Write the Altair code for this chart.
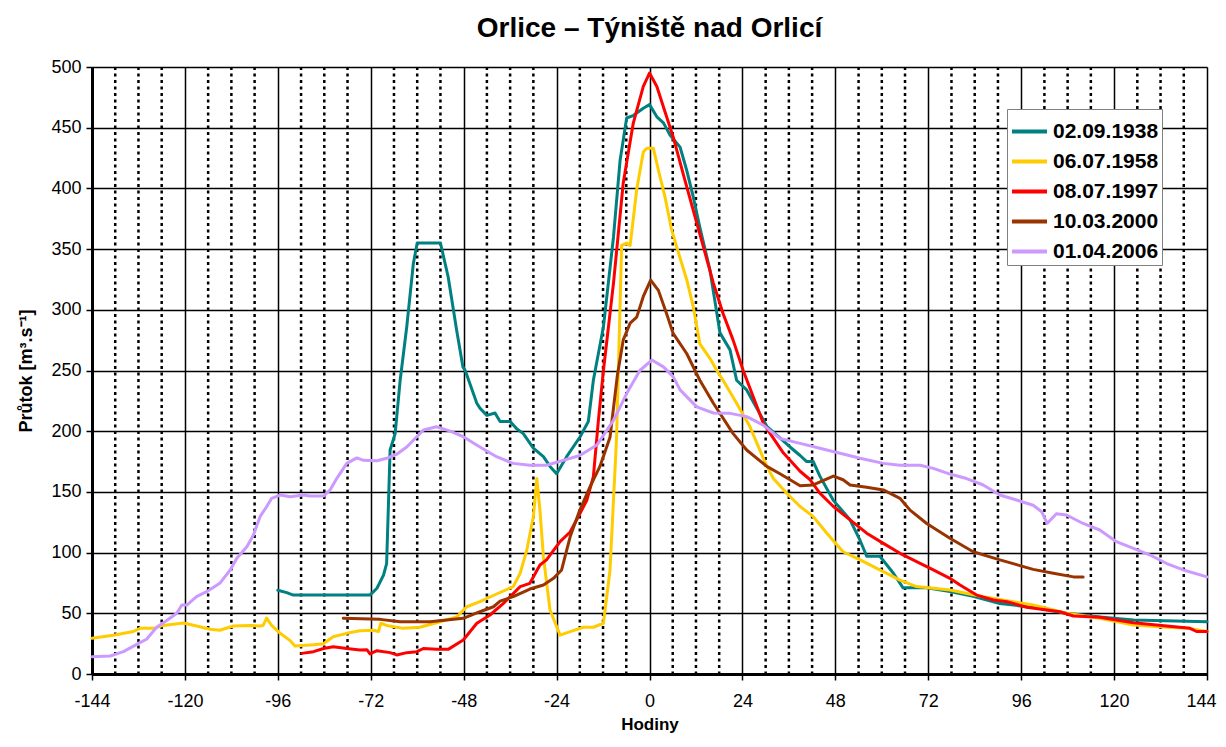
import altair as alt
import pandas as pd

# ---------------- data ----------------
series_names = ["02.09.1938", "06.07.1958", "08.07.1997", "10.03.2000", "01.04.2006"]
series_colors = ["#008080", "#FFCC00", "#FF0000", "#993300", "#CC99FF"]

hours_1938 = [
    -96, -93.7, -92, -80, -72.2, -70.4, -68.7, -67.9, -67, -65.7,
    -64.4, -62.7, -61, -60, -54, -52, -49.8, -48.2, -47.6, -44.6,
    -43.8, -42, -39.9, -38.6, -36, -34.3, -32.6, -30, -27.4, -25.7,
    -24, -21.4, -18, -15.8, -14.5, -11.9, -9.3, -7.6, -5.9, -4.2,
    -1.6, 0, 1.9, 3.6, 5.3, 7.9, 9.6, 11.3, 13, 15.6,
    18.2, 20.8, 22.5, 25.1, 30.3, 36.3, 38.9, 40.6, 42.3, 44,
    47.5, 51.8, 54.4, 56.1, 59.5, 63, 65.5, 71.6, 77.6, 83.6,
    90.5, 99, 107.7, 116.3, 125, 144,
]
flow_1938 = [
    69, 67, 65, 65, 65, 70.6, 81.5, 91, 184.5, 198,
    242, 286, 338, 355, 355, 327, 283, 253, 250, 223,
    219, 213, 215, 208, 208, 202, 198, 186, 179, 171,
    165, 179, 195, 208, 242, 286, 360, 423, 458, 460,
    466, 469, 459, 454, 444, 434, 415, 393, 368, 333,
    281, 267, 242, 234, 204, 187, 180, 175, 175, 163,
    143, 127, 110, 97, 97, 83, 71, 71, 68, 64,
    58, 55, 50, 47, 44.5, 43,
]

hours_1958 = [
    -144, -138.5, -133.3, -131.6, -128, -125.6, -120.4, -117, -113.5, -111,
    -107.5, -103, -100.6, -99.8, -98.9, -97.6, -95.4, -92.8, -91.6, -86.8,
    -84.2, -81.7, -78.2, -74.8, -71.3, -70, -69.4, -67.9, -63.6, -59.3,
    -54.1, -49.8, -47.2, -43.8, -39.5, -35.2, -33.4, -31.7, -30, -29.1,
    -28.3, -27.4, -25.7, -23.1, -19.7, -17.1, -14.5, -11.9, -10.2, -8.5,
    -7.2, -5.9, -5, -3.3, -1.6, -0.7, 1, 2.3, 4, 5.7,
    7, 9.6, 11.3, 13, 15.6, 17.4, 19, 21.6, 25.9, 30.3,
    32, 35.4, 38.9, 42.3, 45.8, 50, 54.4, 59.5, 64.7, 69,
    77.6, 86.2, 99.1, 107.7, 116.3, 125, 133.6, 139.6, 144,
]
flow_1958 = [
    29.4, 32, 35, 37.6, 37.6, 40, 42, 39.5, 36.8, 36,
    39.5, 40, 39.5, 40, 46, 40, 33.5, 27.5, 23, 24,
    25, 30.7, 33.5, 35.7, 36, 35, 41.8, 40, 37.6, 38.5,
    43, 47, 55.4, 59.6, 65.9, 72, 83, 102, 129.6, 161,
    135, 96.6, 52.7, 32, 35.7, 38.5, 38.5, 41.8, 85.7, 195,
    353, 355, 353, 399, 430, 433, 433, 415, 393, 366,
    352, 325, 302.6, 272, 260, 250, 242, 228, 204, 171,
    161, 149, 138, 129.6, 116, 100.7, 94, 85.7, 77.4, 72,
    69.2, 63.7, 56.8, 50, 45.9, 40.4, 38.5, 37.6, 35,
]

hours_1997 = [
    -89.8, -86.8, -84.2, -81.7, -78.2, -74.8, -73, -72.2, -70.4, -67,
    -65.3, -62.7, -60.1, -58.4, -55, -52, -48.1, -44.6, -41.2, -37.8,
    -33.4, -30.9, -28.3, -26.6, -23.1, -20.5, -18, -16.2, -14.5, -13.2,
    -11.9, -9.3, -6.8, -4.2, -1.6, 0, 1.9, 3.6, 6.1, 8.7,
    11.3, 13.9, 16.5, 19, 21.6, 24.2, 29.4, 34.6, 38.9, 41.5,
    44, 47.5, 51.8, 56.1, 60.4, 64.7, 69, 73.3, 77.6, 80.2,
    84.5, 88.8, 92.3, 97.4, 106, 109.5, 116.3, 125, 133.6, 139.6,
    141.3, 144,
]
flow_1997 = [
    17, 18.4, 21, 22.5, 21, 19.8, 20, 16.5, 19.2, 17.6,
    15.7, 17.6, 18.4, 21, 20.3, 20.3, 28, 41.8, 48.6, 58,
    72, 74.7, 89.8, 94, 109, 117, 132, 143, 162.5, 209,
    250, 322, 404, 453.6, 484, 495, 484, 467, 442.6, 412,
    382, 352, 322, 297, 275, 250, 206.5, 182, 167, 160,
    149, 138, 127, 116, 107.6, 99.4, 92.5, 85.7, 78.8, 73.3,
    65, 61, 59.6, 55, 51.3, 47.8, 46.7, 42.3, 39.5, 37.6,
    35, 35,
]

hours_2000 = [
    -79.1, -69.6, -64.4, -56.7, -48.1, -43.8, -40.3, -38.6, -35.2, -30.9,
    -27.4, -24.8, -22.7, -20.5, -18, -15.4, -12.8, -10.2, -8.3, -6.8,
    -5, -3.3, -1.6, 0.3, 2.3, 4.4, 6.1, 9.6, 13, 16.5,
    21.6, 25.1, 30.3, 33.7, 38.9, 42.3, 47.5, 50, 51.8, 56.1,
    60.4, 64.7, 67.3, 71.6, 77.6, 83.6, 90.5, 99.1, 104.3, 109.5, 112,
]
flow_2000 = [
    45.9, 45, 43, 43, 45.9, 51.3, 55.4, 60, 63.7, 70,
    73.3, 78.8, 85.7, 113, 135, 154, 171, 195, 246, 275,
    289, 294, 311, 324.5, 316, 297, 280.6, 264, 242, 223,
    198, 184.5, 171, 165, 155, 155.7, 163, 160, 155.7, 153.8,
    151.6, 144.7, 135, 124, 111.8, 100.7, 94, 86.2, 83, 80, 80,
]

hours_2006 = [
    -144, -139.3, -135.9, -131.6, -129.9, -127.3, -124.7, -122.1, -120.8, -119.5,
    -117, -114.4, -111, -108.3, -106.6, -104, -102.3, -100.6, -98.9, -97.6,
    -95.4, -92.8, -89.4, -87.7, -84.2, -82.5, -80.8, -78.2, -75.6, -73.9,
    -70.4, -67.9, -65.3, -62.7, -58.4, -55, -51.5, -48.1, -43.8, -39.5,
    -35.2, -30.9, -26.6, -22.3, -18, -13.6, -9.3, -5.9, -2.5, 0.6,
    3.6, 6.1, 7.9, 12.2, 16.5, 20.8, 25.1, 29.4, 33.7, 38.9,
    44, 49.2, 54.4, 60.4, 64.7, 69.9, 73.3, 77.6, 81.9, 86.2,
    90.5, 94.8, 99.1, 101.3, 102.7, 105.1, 107.7, 112, 116.3, 120.6,
    125, 129.3, 133.6, 137.9, 144,
]
flow_2006 = [
    14.3, 14.8, 18.4, 25.8, 28.6, 38.5, 44, 50, 56.8, 56.8,
    63.7, 67.8, 74.7, 85.7, 95.3, 104.9, 114.5, 129.6, 137.8, 144.7,
    147.4, 146, 147.4, 146.6, 146.6, 151.6, 161, 173.5, 178, 176,
    175.7, 177.7, 181, 187, 201, 203.7, 200, 195.5, 187, 179,
    173.5, 172, 172, 176, 180, 188.6, 209, 231, 250, 258.6,
    253, 245, 234, 220, 215, 214.7, 212, 205, 194, 190,
    186, 181.8, 177.7, 173.5, 172, 172, 169.4, 164.7, 161, 155.7,
    147.4, 143.3, 139, 133.7, 124, 132, 131, 124, 118.6, 109,
    103.5, 98, 91, 85.7, 80,
]

x_ticks = list(range(-144, 145, 24))
x_minor = [h for h in range(-144, 145, 6) if h % 24 != 0]
y_ticks = list(range(0, 501, 50))

# ---------------- build table ----------------
all_hours = [hours_1938, hours_1958, hours_1997, hours_2000, hours_2006]
all_flows = [flow_1938, flow_1958, flow_1997, flow_2000, flow_2006]
frames = []
for name, hrs, vals in zip(series_names, all_hours, all_flows):
    frames.append(pd.DataFrame({"hodiny": hrs, "prutok": vals, "serie": name}))
df = pd.concat(frames, ignore_index=True)
minor_df = pd.DataFrame({"hodiny": x_minor})

FONT = "Liberation Sans"
x_scale = alt.Scale(domain=[-144, 144], nice=False, zero=False)
y_scale = alt.Scale(domain=[0, 500], nice=False)

x_axis = alt.Axis(
    values=x_ticks, title="Hodiny", grid=True, gridColor="black", gridWidth=1.5,
    domainColor="black", domainWidth=3, tickColor="black", tickWidth=1.5, tickSize=6,
    labelFontSize=18, labelColor="black", labelFont=FONT, labelPadding=12,
    labelExpr="datum.value < 0 ? '-' + abs(datum.value) : datum.label",
    labelOffset={"condition": {"test": "datum.value >= 144", "value": -6}, "value": 0},
    titleFont=FONT, titleFontSize=17, titleFontWeight="bold", titleColor="black",
    titlePadding=6, labelFlush=False, labelOverlap=False,
)
y_axis = alt.Axis(
    values=y_ticks, title="Průtok [m³.s⁻¹]", grid=True, gridColor="black", gridWidth=1.5,
    domainColor="black", domainWidth=3, tickColor="black", tickWidth=1.5, tickSize=6,
    labelFontSize=18, labelColor="black", labelFont=FONT, labelPadding=5,
    titleFont=FONT, titleFontSize=18, titleFontWeight="bold", titleColor="black",
    titlePadding=15,
)

minor_grid = alt.Chart(minor_df).mark_rule(
    color="black", strokeWidth=2.5, strokeDash=[3, 3.5]
).encode(x=alt.X("hodiny:Q", scale=x_scale, axis=x_axis))

lines = alt.Chart(df).mark_line(strokeWidth=3, strokeJoin="round", strokeCap="round").encode(
    x=alt.X("hodiny:Q", scale=x_scale, axis=x_axis),
    y=alt.Y("prutok:Q", scale=y_scale, axis=y_axis),
    color=alt.Color(
        "serie:N",
        scale=alt.Scale(domain=series_names, range=series_colors),
        legend=alt.Legend(
            title=None, orient="none", legendX=915, legendY=42,
            symbolType="stroke", symbolStrokeWidth=4, symbolSize=1225,
            labelFont=FONT, labelFontSize=21, labelFontWeight="bold", labelColor="black",
            strokeColor="#808080", fillColor="white", padding=3, rowPadding=-5, labelOffset=4,
        ),
    ),
)

chart = alt.layer(minor_grid, lines).properties(
    width=1115, height=607,
    title=alt.TitleParams(
        "Orlice – Týniště nad Orlicí", font=FONT, fontSize=28, fontWeight="bold",
        color="black", anchor="middle", offset=15,
    ),
    autosize=alt.AutoSizeParams(type="none"),
    padding={"left": 84, "top": 59, "right": 10, "bottom": 60},
).configure_view(stroke="#222222", strokeWidth=2.5).configure(font=FONT, background="white")

chart.save("out.html", embed_options={"renderer": "svg", "actions": False})
